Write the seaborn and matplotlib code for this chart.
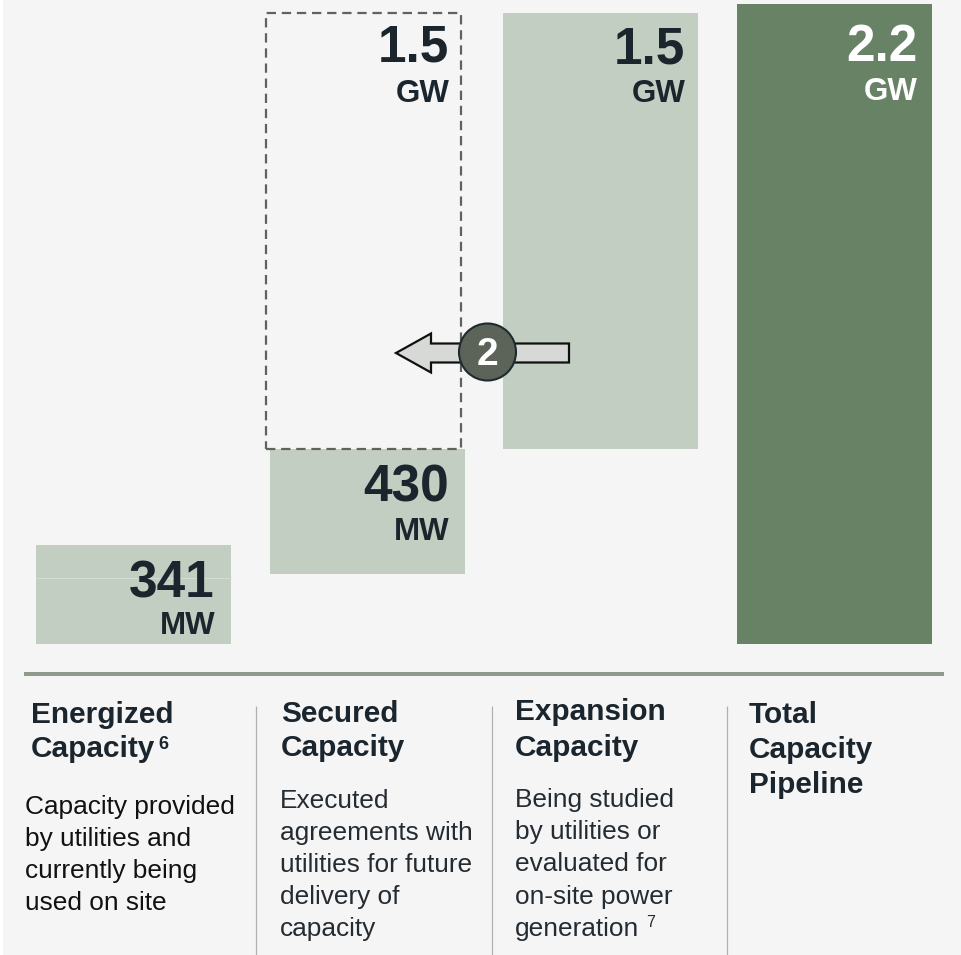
import matplotlib
matplotlib.use("Agg")
import matplotlib.pyplot as plt
from matplotlib.patches import Circle, Polygon, Rectangle
import seaborn as sns

# Capacity figures in MW
categories = ["Energized", "Secured", "Expansion", "Total"]
capacity_mw = [341, 430, 1500, 2200]
bar_bottoms_mw = [0, 240, 670, 0]
bar_colors = ["#c3cec2", "#c3cec2", "#c3cec2", "#688265"]
value_labels = ["341", "430", "1.5", "2.2"]
unit_labels = ["MW", "MW", "GW", "GW"]

titles = [
    ["Energized", "Capacity"],
    ["Secured", "Capacity"],
    ["Expansion", "Capacity"],
    ["Total", "Capacity", "Pipeline"],
]
descriptions = [
    ["Capacity provided", "by utilities and", "currently being", "used on site"],
    ["Executed", "agreements with", "utilities for future", "delivery of", "capacity"],
    ["Being studied", "by utilities or", "evaluated for", "on-site power", "generation"],
]

W, H = 961, 955
INK = "#1b252d"
BG = "#f5f5f5"
LIGHT_INK = "#242b31"
VALUE_SIZE = 37
UNIT_SIZE = 22.5

sns.set_theme(style="white")
plt.rcParams["font.family"] = ["Liberation Sans", "DejaVu Sans"]

fig = plt.figure(figsize=(W / 100, H / 100), dpi=100, facecolor="white")

# Panel background, leaving a thin white strip on the left
bg_ax = fig.add_axes([0, 0, 1, 1], zorder=0)
bg_ax.set_xlim(0, W)
bg_ax.set_ylim(H, 0)
bg_ax.axis("off")
bg_ax.add_patch(Rectangle((3, 0), W - 3, H, facecolor=BG, edgecolor="none"))

# Bars sit on a categorical axis whose baseline is 644 px from the top
STEP = 233.67
BASE_PX = 644
ax = fig.add_axes(
    [(133.5 - STEP / 2) / W, (H - BASE_PX) / H, 4 * STEP / W, BASE_PX / H],
    zorder=1,
)
ax.patch.set_alpha(0)
BAR_WIDTH = 195 / STEP
for cat, height, bottom, color in zip(categories, capacity_mw, bar_bottoms_mw, bar_colors):
    sns.barplot(
        x=[cat], y=[height], bottom=bottom, order=categories, color=color,
        saturation=1, width=BAR_WIDTH, linewidth=0, ax=ax,
    )

# Dashed outline: the expansion capacity that moves across to secured
ax.bar(
    1 - 3.7 / STEP, capacity_mw[2], bottom=bar_bottoms_mw[2], width=BAR_WIDTH,
    fill=False, edgecolor="#5f635e", linewidth=1.6, linestyle=(0, (4.2, 2.6)),
    clip_on=False,
)
ax.set_xlim(-0.5, 3.5)
ax.set_ylim(0, 2213)
ax.set_xlabel("")
ax.set_ylabel("")
ax.set_xticks([])
ax.set_yticks([])
sns.despine(ax=ax, left=True, bottom=True)

# Overlay in pixel coordinates for annotations and the text columns
ov = fig.add_axes([0, 0, 1, 1], zorder=2)
ov.set_xlim(0, W)
ov.set_ylim(H, 0)
ov.axis("off")
ov.patch.set_alpha(0)

# Seam across the energized bar
ov.plot([36, 231], [578, 578], color="#d3dcd1", lw=0.8, solid_capstyle="butt")

# Transfer arrow with numbered badge
arrow_y = 353
ov.add_patch(Polygon(
    [(569, arrow_y - 9.5), (431, arrow_y - 9.5), (431, arrow_y - 19.5), (396, arrow_y),
     (431, arrow_y + 19.5), (431, arrow_y + 9.5), (569, arrow_y + 9.5)],
    closed=True, facecolor="#d6d9d5", edgecolor="#101010", linewidth=1.6,
    joinstyle="miter",
))
ov.add_patch(Circle((487.5, 352), 28.5, facecolor="#5c6459", edgecolor="#1f2a30", linewidth=1.5))
ov.text(487.5, 365, "2", ha="center", va="baseline", color="white", fontsize=28, fontweight="bold")

# Value and unit labels, right aligned inside each bar
value_pos = [(214, 597), (449, 501), (685, 64), (918, 61)]
unit_pos = [(216, 634), (450, 540), (686, 102), (918, 100)]
value_colors = [INK, INK, INK, "white"]
for lab, unit, vp, up, col in zip(value_labels, unit_labels, value_pos, unit_pos, value_colors):
    ov.text(*vp, lab, ha="right", va="baseline", fontsize=VALUE_SIZE, fontweight="bold", color=col)
    ov.text(*up, unit, ha="right", va="baseline", fontsize=UNIT_SIZE, fontweight="bold", color=col)

# Ghost label inside the dashed outline
ov.text(449, 62, value_labels[2], ha="right", va="baseline", fontsize=VALUE_SIZE, fontweight="bold", color=INK)
ov.text(450, 102, unit_labels[2], ha="right", va="baseline", fontsize=UNIT_SIZE, fontweight="bold", color=INK)

# Heavy rule under the bars and column dividers
ov.plot([24, 944], [673.5, 673.5], color="#8f9a8c", lw=2.9, solid_capstyle="butt")
for x in [256, 491.5, 726.5]:
    ov.plot([x, x], [706, H], color="#b0b0b0", lw=0.9, solid_capstyle="butt")

# Column headings
title_x = [31, 281, 515, 749]
title_y = [[723, 757], [722, 756], [720, 756], [723, 758, 793]]
for x, lines, ys in zip(title_x, titles, title_y):
    for line, y in zip(lines, ys):
        ov.text(x, y, line, ha="left", va="baseline", fontsize=21.4, fontweight="bold", color=INK)
ov.text(158, 749, "6", ha="left", va="baseline", fontsize=13, fontweight="bold", color=INK)

# Column descriptions
body_x = [25, 280, 515]
body_y = [[814, 846, 878, 910], [808, 840, 872, 904, 936], [807, 839, 871, 904, 936]]
body_colors = ["#111111", LIGHT_INK, LIGHT_INK]
for x, lines, ys, col in zip(body_x, descriptions, body_y, body_colors):
    for line, y in zip(lines, ys):
        ov.text(x, y, line, ha="left", va="baseline", fontsize=18.9, color=col)
ov.text(646, 927, "7", ha="left", va="baseline", fontsize=11.5, color=LIGHT_INK)

fig.savefig("out.png", dpi=100)
